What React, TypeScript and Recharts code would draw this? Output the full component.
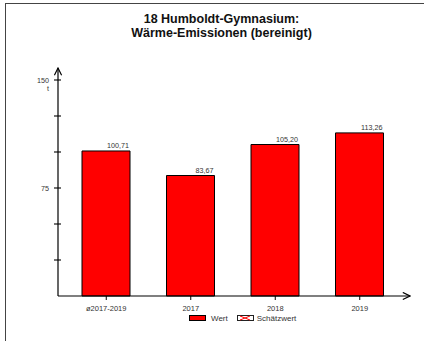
import React from "react";
import { BarChart, Bar, XAxis, YAxis, LabelList } from "recharts";

const categories = ["ø2017-2019", "2017", "2018", "2019"];
const values = [100.71, 83.67, 105.2, 113.26];
const yTicks = [0, 25, 50, 75, 100, 125, 150];
const yLabelled = [75, 150];

const data = categories.map((name, i) => ({ name, wert: values[i] }));

const font = "'Liberation Sans', Arial, sans-serif";
const textColor = "#333";

const fmt = (v: number) => v.toFixed(2).replace(".", ",");

function YTick(props: any) {
  const { x, y, payload } = props;
  const v = payload.value;
  if (v === 0) return null;
  return (
    <g>
      <line x1={x + 5} x2={x + 12} y1={y} y2={y} stroke="#000" strokeWidth={1.1} />
      {yLabelled.includes(v) && (
        <text x={x} y={y} dy="0.35em" textAnchor="end" fontSize={7.2} fill={textColor}>
          {v}
        </text>
      )}
      {v === 150 && (
        <text x={x} y={y + 8} dy="0.35em" textAnchor="end" fontSize={7.2} fill={textColor}>
          t
        </text>
      )}
    </g>
  );
}

function XTick(props: any) {
  const { x, y, payload } = props;
  return (
    <g>
      <line x1={x} x2={x} y1={y - 11} y2={y - 7} stroke="#000" strokeWidth={1} />
      <text x={x} y={y + 1} dy="0.35em" textAnchor="middle" fontSize={7.5} fill={textColor}>
        {payload.value}
      </text>
    </g>
  );
}

function ValueLabel(props: any) {
  const { x, y, width, value } = props;
  return (
    <text x={x + width - 1} y={y - 3} textAnchor="end" fontSize={7.2} fill={textColor}>
      {fmt(value)}
    </text>
  );
}

export default function App() {
  return (
    <div
      style={{
        position: "absolute",
        left: 0,
        top: 0,
        width: 424,
        height: 341,
        overflow: "hidden",
        background: "#fff",
        fontFamily: font,
      }}
    >
      <svg width={0} height={0} style={{ position: "absolute" }}>
        <defs>
          <marker
            id="arr"
            viewBox="0 0 10 10"
            refX={9}
            refY={5}
            markerWidth={9}
            markerHeight={9}
            markerUnits="userSpaceOnUse"
            orient="auto-start-reverse"
          >
            <path d="M1,1 L9,5 L1,9" fill="none" stroke="#000" strokeWidth={1.3} />
          </marker>
        </defs>
      </svg>
      <div
        style={{
          position: "absolute",
          left: 5,
          top: 3,
          width: 440,
          height: 345,
          borderLeft: "1.5px solid #444",
          borderTop: "1.5px solid #444",
        }}
      />
      <div
        style={{
          position: "absolute",
          left: 5,
          top: 13,
          width: 433,
          textAlign: "center",
          fontWeight: "bold",
          fontSize: 12.5,
          lineHeight: "13.5px",
          color: "#111",
        }}
      >
        18 Humboldt-Gymnasium:
        <br />
        Wärme-Emissionen (bereinigt)
      </div>
      <div style={{ position: "absolute", left: 0, top: 0 }}>
        <BarChart
          width={424}
          height={341}
          data={data}
          margin={{ top: 68, right: 14, left: 18, bottom: 15 }}
          style={{ fontFamily: font }}
        >
          <XAxis
            dataKey="name"
            height={30}
            padding={{ left: 6, right: 8 }}
            axisLine={{ stroke: "#000", strokeWidth: 1.2, markerEnd: "url(#arr)" }}
            tickLine={false}
            tickSize={3}
            tickMargin={8}
            tick={<XTick />}
            interval={0}
          />
          <YAxis
            width={40}
            domain={[0, 158.33]}
            ticks={yTicks}
            axisLine={{ stroke: "#000", strokeWidth: 1.2, markerStart: "url(#arr)" }}
            tickLine={false}
            tickSize={3}
            tickMargin={6}
            tick={<YTick />}
            interval={0}
          />
          <Bar
            dataKey="wert"
            fill="#ff0000"
            stroke="#000"
            strokeWidth={1}
            barSize={48}
            isAnimationActive={false}
          >
            <LabelList dataKey="wert" content={<ValueLabel />} />
          </Bar>
        </BarChart>
      </div>
      <div
        style={{
          position: "absolute",
          left: 189,
          top: 314,
          display: "flex",
          alignItems: "center",
          fontSize: 8,
          color: textColor,
          whiteSpace: "nowrap",
        }}
      >
        <svg width={18} height={7}>
          <rect x={0.5} y={0.5} width={16} height={5} fill="#ff0000" stroke="#000" />
        </svg>
        <span style={{ marginLeft: 4, marginRight: 9 }}>Wert</span>
        <svg width={18} height={7}>
          <rect x={0.5} y={0.5} width={16} height={5} fill="#fff" stroke="#222" />
          <path d="M3,1 L13,5 M3,5 L13,1" stroke="#ff0000" strokeWidth={1} />
        </svg>
        <span style={{ marginLeft: 2 }}>Schätzwert</span>
      </div>
    </div>
  );
}
